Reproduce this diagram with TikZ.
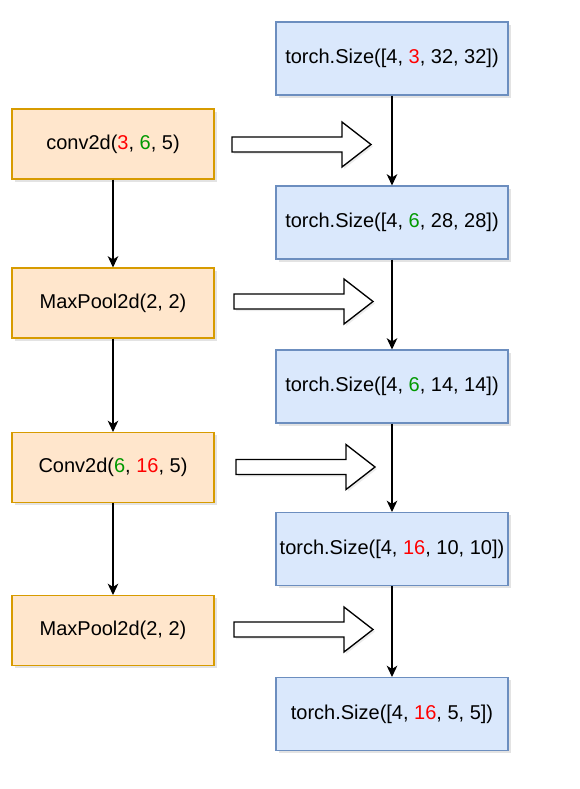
\documentclass[tikz,border=0pt]{standalone}
\usepackage{fontspec}
\setmainfont{Liberation Sans}
\usetikzlibrary{arrows.meta,shadows}
\definecolor{ofill}{HTML}{FFE6CC}
\definecolor{odraw}{HTML}{D79B00}
\definecolor{bfill}{HTML}{DAE8FC}
\definecolor{bdraw}{HTML}{6C8EBF}
\definecolor{nred}{HTML}{FF0000}
\definecolor{ngreen}{HTML}{009900}
\newcommand{\rd}[1]{\textcolor{nred}{#1}}
\newcommand{\gn}[1]{\textcolor{ngreen}{#1}}
\tikzset{
  boxshadow/.style={drop shadow={shadow xshift=2.2pt, shadow yshift=-2.2pt, opacity=0.18, fill=black!60}},
  opbox/.style={draw=odraw, fill=ofill, line width=0.8pt, minimum width=151.5pt, minimum height=52.5pt, inner sep=0pt, boxshadow, font=\fontsize{15}{18}\selectfont},
  szbox/.style={draw=bdraw, fill=bfill, line width=0.8pt, minimum width=174pt, minimum height=54.75pt, inner sep=0pt, boxshadow, font=\fontsize{15}{18}\selectfont},
  conn/.style={draw=black, line width=0.9pt, -{Stealth[length=8.5pt, width=8pt, inset=2.5pt]}},
  blockarrow/.pic={
    \draw[line width=1pt, fill=white, drop shadow={shadow xshift=1.5pt, shadow yshift=-1.5pt, opacity=0.12, fill=black!60}]
      (0,-7.5) -- (110,-7.5) -- (110,-22.5) -- (139,0) -- (110,22.5) -- (110,7.5) -- (0,7.5) -- cycle;
  }
}
\begin{document}
\begin{tikzpicture}[x=0.75pt, y=-0.75pt]
\useasboundingbox (0,0) rectangle (579,789);
% right column
\node[szbox] (r1) at (392,58.5) {torch.Size([4, \rd{3}, 32, 32])};
\node[szbox] (r2) at (392,222.5) {torch.Size([4, \gn{6}, 28, 28])};
\node[szbox] (r3) at (392,386.5) {torch.Size([4, \gn{6}, 14, 14])};
\node[szbox] (r4) at (392,549) {torch.Size([4, \rd{16}, 10, 10])};
\node[szbox] (r5) at (392,714) {torch.Size([4, \rd{16}, 5, 5])};
% left column
\node[opbox] (l1) at (113,144) {conv2d(\rd{3}, \gn{6}, 5)};
\node[opbox] (l2) at (113,303) {MaxPool2d(2, 2)};
\node[opbox] (l3) at (113,467.5) {Conv2d(\gn{6}, \rd{16}, 5)};
\node[opbox] (l4) at (113,630.5) {MaxPool2d(2, 2)};
% connectors
\draw[conn] (r1) -- (r2);
\draw[conn] (r2) -- (r3);
\draw[conn] (r3) -- (r4);
\draw[conn] (r4) -- (r5);
\draw[conn] (l1) -- (l2);
\draw[conn] (l2) -- (l3);
\draw[conn] (l3) -- (l4);
% block arrows
\pic at (232,144.5) {blockarrow};
\pic at (234,301.5) {blockarrow};
\pic at (236,467) {blockarrow};
\pic at (234,629.5) {blockarrow};
\end{tikzpicture}
\end{document}
